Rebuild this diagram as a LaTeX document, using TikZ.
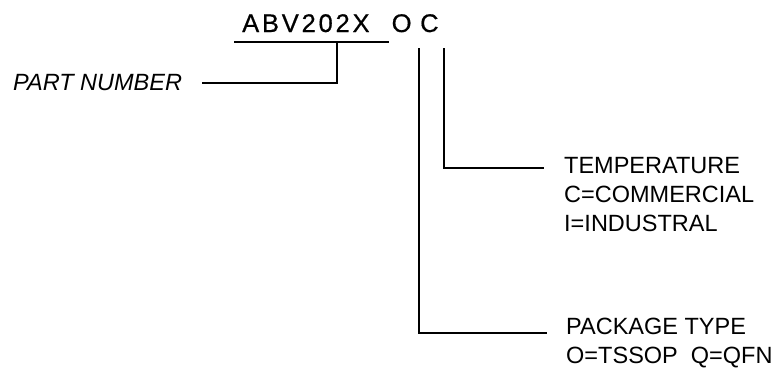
\documentclass[tikz,border=0pt]{standalone}
\usepackage{fontspec}
\setmainfont{Liberation Sans}
\begin{document}
\begin{tikzpicture}[x=1pt,y=-1pt,
  lbl/.style={inner sep=0pt, font=\fontsize{23.5}{29}\selectfont, align=left},
  ttl/.style={inner sep=0pt, font=\fontsize{25.5}{30}\selectfont\addfontfeature{LetterSpace=11,FakeBold=0.6}},
  wire/.style={line width=1.6pt}]
\useasboundingbox (0,0) rectangle (775,375);
% title parts
\node[ttl, anchor=base west] (pn) at (242,32) {ABV202X};
\node[ttl, anchor=base west] (pk) at (391.5,32) {O};
\node[ttl, anchor=base west] (tp) at (420,32) {C};
% underline of part number
\coordinate (ul) at (234,42);
\coordinate (ur) at (389,42);
\draw[wire] (ul) -- (ur);
% part number label
\node[lbl, anchor=base west, font=\fontsize{23.5}{29}\selectfont\itshape] (pnl) at (13,90) {PART NUMBER};
\coordinate (pnend) at (202,83);
\coordinate (pntick) at (337,42);
\draw[wire] (pnend) -| (pntick);
% temperature
\node[lbl, anchor=north west] (tl) at (564,157) {TEMPERATURE\\C=COMMERCIAL\\I=INDUSTRAL};
\coordinate (ttop) at (444,48);
\coordinate (tend) at (544,168);
\draw[wire] (ttop) |- (tend);
% package
\node[lbl, anchor=north west] (pl) at (566,318) {PACKAGE TYPE\\O=TSSOP\hspace{13pt}Q=QFN};
\coordinate (ptop) at (419,48);
\coordinate (pend) at (547,333);
\draw[wire] (ptop) |- (pend);
\end{tikzpicture}
\end{document}
